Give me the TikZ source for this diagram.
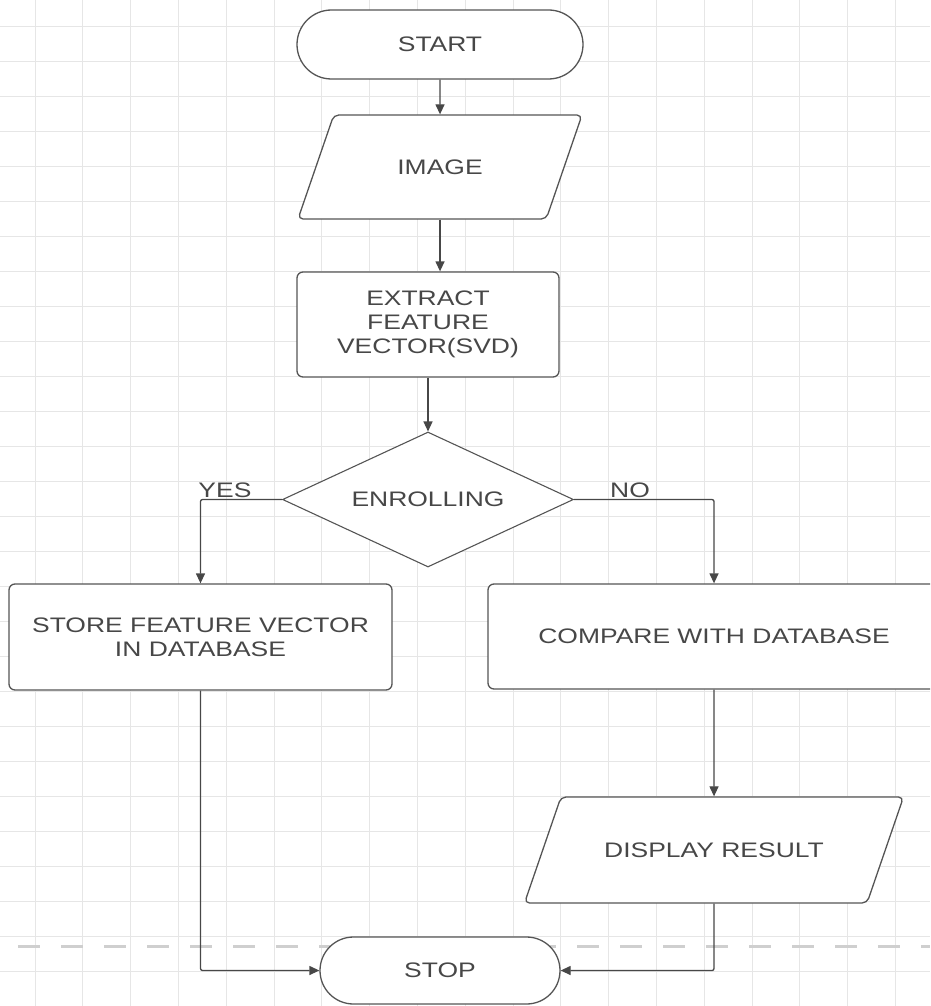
\documentclass[tikz,border=0pt]{standalone}
\usepackage{fontspec}
\setmainfont{Liberation Sans}[FakeStretch=1.26]
\usetikzlibrary{shapes.geometric,shapes.misc,arrows.meta}
\definecolor{edge}{HTML}{555555}
\definecolor{ink}{HTML}{474747}
\definecolor{gridc}{HTML}{E6E6E6}
\definecolor{sep}{HTML}{CFCFCF}
\begin{document}
\begin{tikzpicture}[x=1pt,y=-1pt,
    font=\fontsize{21}{24}\selectfont, text=ink,
    >={Triangle[length=10pt,width=9pt]},
    terminal/.style={rounded rectangle, draw=edge, line width=1.3pt, fill=white, inner sep=0pt},
    io/.style={trapezium, trapezium left angle=71, trapezium right angle=109,
        trapezium stretches body=true, draw=edge, line width=1.3pt, fill=white,
        rounded corners=5pt, inner xsep=0pt, inner ysep=44.5pt},
    process/.style={rectangle, draw=edge, line width=1.3pt, fill=white,
        rounded corners=6pt, align=center, inner sep=0pt},
    decision/.style={diamond, aspect=2.16, draw=edge, line width=1.1pt, fill=white, inner sep=0pt},
    flow/.style={draw=ink, line width=1.3pt, rounded corners=2pt},
    branch/.style={inner sep=1pt},
    gridline/.style={draw=gridc, line width=0.9pt}]
            \useasboundingbox (0,0) rectangle (930,1006);
            \clip (0,0) rectangle (930,1006);
            % background grid
            \foreach \k in {0,...,18}
                \draw[gridline] ({35+47.8*\k},0) -- ({35+47.8*\k},1006);
            \foreach \k in {0,...,28}
                \draw[gridline] (0,{26+35*\k}) -- (930,{26+35*\k});
            \draw[sep, line width=3pt, dash pattern=on 22pt off 21pt] (18,946) -- (930,946);
            % flow chart
            \node[terminal, minimum width=286pt, minimum height=69pt] (start) at (440,44.5) {START};
            \node[io, minimum width=284pt, minimum height=104pt] (image) at (440,167) {IMAGE};
            \node[process, minimum width=262pt, minimum height=105pt] (extract) at (428,324.5) {EXTRACT\\FEATURE\\VECTOR(SVD)};
            \node[decision, minimum width=291pt, minimum height=135pt] (enrol) at (428,499.5) {ENROLLING};
            \node[process, minimum width=383pt, minimum height=106pt] (store) at (200.5,637) {STORE FEATURE VECTOR\\IN DATABASE};
            \node[process, minimum width=452pt, minimum height=105pt] (compare) at (714,636.5) {COMPARE WITH DATABASE};
            \node[io, inner ysep=45.5pt, minimum width=379pt, minimum height=106pt] (display) at (714,850) {DISPLAY RESULT};
            \node[terminal, minimum width=240pt, minimum height=67pt] (stop) at (440,970.5) {STOP};
            \draw[flow,->] (start) -- (image);
            \draw[flow,->] (image.south) -- (image.south |- extract.north);
            \draw[flow,->] (extract) -- (enrol);
            \draw[flow,->] (enrol.west) -| node[branch, above, pos=0.35] (yes) {YES} (store.north);
            \draw[flow,->] (enrol.east) -| node[branch, above, pos=0.2] (no) {NO} (compare.north);
            \draw[flow,->] (compare) -- (display);
            \draw[flow,->] (store.south) |- (stop.west);
            \draw[flow,->] (display.south) |- (stop.east);
        \end{tikzpicture}
\end{document}
